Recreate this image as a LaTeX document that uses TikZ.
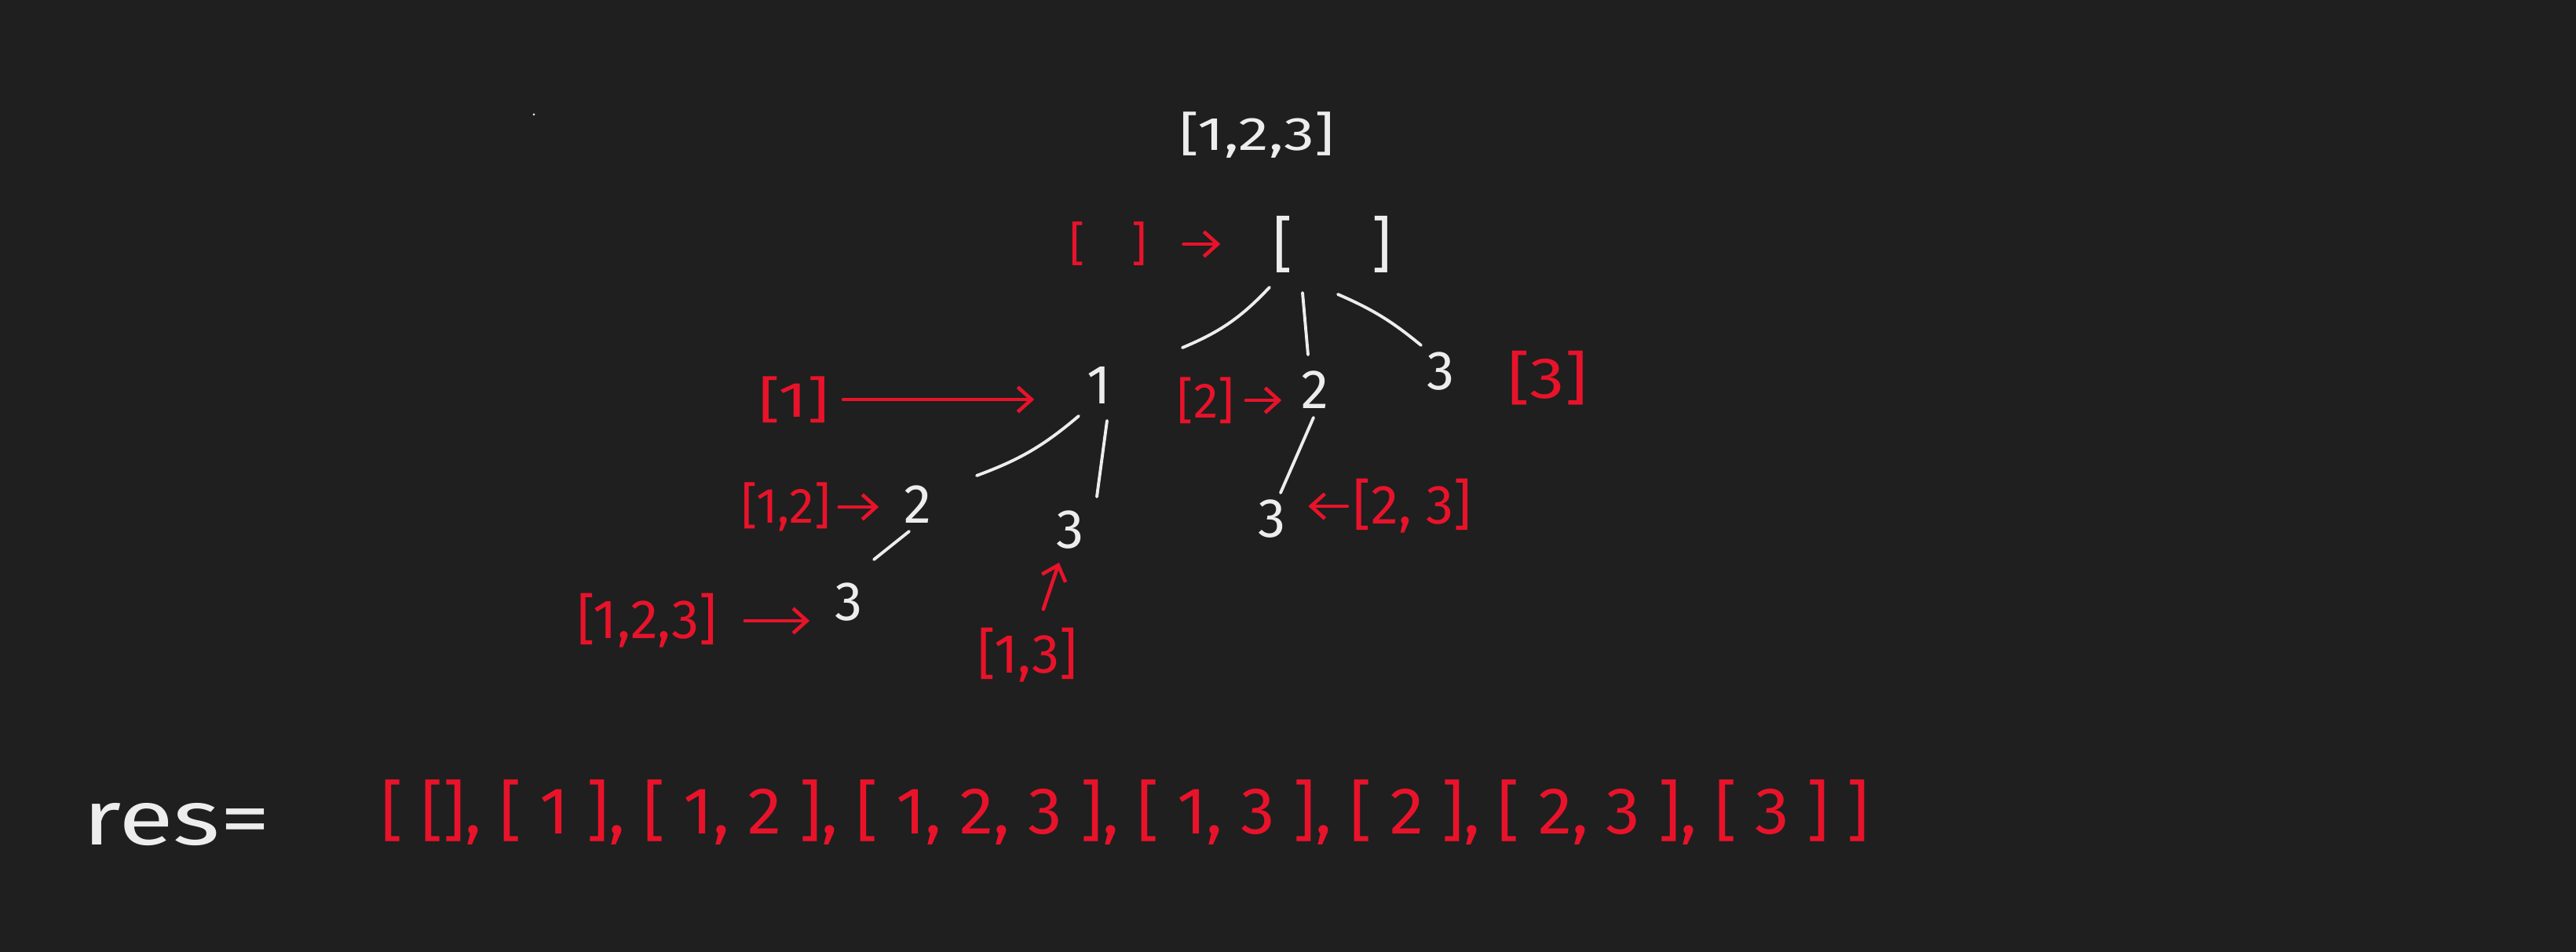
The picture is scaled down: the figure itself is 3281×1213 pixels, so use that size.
\documentclass[tikz,border=0pt]{standalone}
\usepackage{fontspec}
\setmainfont{Fira Sans}
\usetikzlibrary{positioning,arrows.meta,calc}
\definecolor{board}  {HTML}{1F1F1F}
\definecolor{chalk}  {HTML}{EDEDED}
\definecolor{marker} {HTML}{E8132A}
\tikzset{
  >={Straight Barb[length=5pt,width=9pt]},
  % --- nodes
  wt/.style  = {text=chalk, inner sep=1pt, font=\fontsize{20}{22}\selectfont},
  rd/.style  = {text=marker, inner sep=1pt, font=\fontsize{18}{20}\selectfont},
  % --- edges
  e/.style   = {draw=chalk, line width=1.1pt, line cap=round},
  er/.style  = {->, draw=marker, line width=1.3pt, line cap=round},
}

\begin{document}
\begin{tikzpicture}[x=0.01cm,y=-0.01cm]
  \fill[board] (0,0) rectangle (3281,1213);
  \useasboundingbox (0,0) rectangle (3281,1213);
  \fill[chalk] (680,146) circle (1.5);
  % input set
  \node[wt, font=\fontsize{17}{19}\selectfont] (input) at (1601,172) {\scalebox{1.3}[1]{[1,2,3]}};
  % tree
  \node[wt, font=\fontsize{22}{24}\selectfont] (root) at (1697,311) {[\hspace{1.3em}]};
  \node[wt] (n1)   at (1400,491) {1};
  \node[wt] (n2)   at (1675,497) {2};
  \node[wt] (n3)   at (1835,473) {3};
  \node[wt] (n12)  at (1169,643) {2};
  \node[wt] (n13)  at (1363,675) {3};
  \node[wt] (n23)  at (1620,661) {3};
  \node[wt] (n123) at (1081,767) {3};
  \draw[e] ($(root)+(-80,55)$) to[bend left=12] ($(n1)+(106,-48)$);
  \draw[e] ($(root)+(-38,62)$) -- ($(n2)+(-9,-45)$);
  \draw[e] ($(root)+(7,64)$)   to[bend left=8] ($(n3)+(-25,-33)$);
  \draw[e] ($(n1)+(-26,39)$)   to[bend left=10] ($(n12)+(75,-37)$);
  \draw[e] ($(n1)+(10,45)$)    -- ($(n13)+(34,-42)$);
  \draw[e] ($(n2)+(-2,35)$)    -- ($(n23)+(11,-33)$);
  \draw[e] ($(n12)+(-11,34)$)  -- ($(n123)+(32,-54)$);
  % subsets
  \node[rd, font=\fontsize{17}{19}\selectfont] (s0) at (1412,311) {[\hspace{1em}]};
  \node[rd] (s1)   at (1011,509) {\scalebox{1.35}[1]{[1]}};
  \node[rd] (s2)   at (1536,510) {[2]};
  \node[rd, font=\fontsize{21}{23}\selectfont] (s3) at (1971,482) {\scalebox{1.2}[1]{[3]}};
  \node[rd] (s12)  at (1001,646) {[1,2]};
  \node[rd, font=\fontsize{20}{22}\selectfont] (s13)  at (1309,835) {[1,3]};
  \node[rd, font=\fontsize{20}{22}\selectfont] (s23)  at (1799,645) {[2, 3]};
  \node[rd, font=\fontsize{20}{22}\selectfont] (s123) at (824,791) {[1,2,3]};
  \draw[er, shorten <=12pt, shorten >=18pt] (s0) -- (root);
  \draw[er, shorten <=4pt, shorten >=18pt] (s1.east) -- (s1.east -| n1.west);
  \draw[er, shorten <=3pt, shorten >=6pt] (s2.east) -- (s2.east -| n2.west);
  \draw[er, shorten <=2pt, shorten >=8pt] (s12.east) -- (s12.east -| n12.west);
  \draw[er, shorten <=9pt, shorten >=8pt] (s123.east) -- (s123.east -| n123.west);
  \draw[er, shorten <=6pt, shorten >=4pt] (s13) -- (n13);
  \draw[er, shorten <=1pt, shorten >=7pt] (s23.west) -- (s23.west -| n23.east);
  % result
  \node[wt, font=\fontsize{28}{30}\selectfont] (res) at (225,1051) {\scalebox{1.3}[1]{res=}};
  \node[rd, font=\fontsize{24}{26}\selectfont] (out) at (1433,1035)
    {\scalebox{1.03}[1]{[ [], [ 1 ], [ 1, 2 ], [ 1, 2, 3 ], [ 1, 3 ], [ 2 ], [ 2, 3 ], [ 3 ] ]}};
\end{tikzpicture}
\end{document}
